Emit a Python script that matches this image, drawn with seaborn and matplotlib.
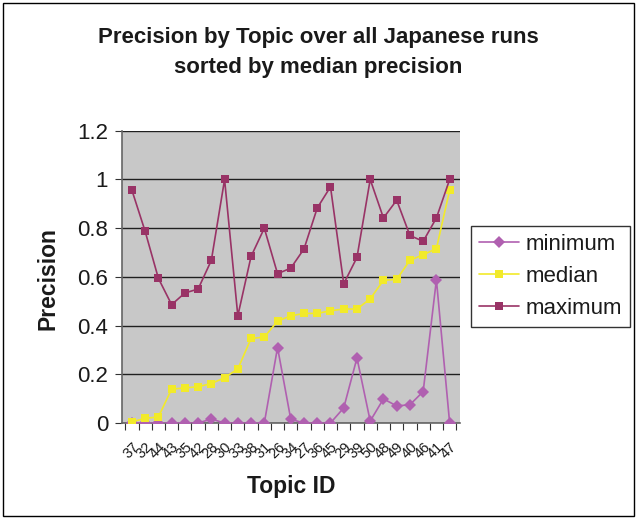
import matplotlib
matplotlib.use("Agg")
import matplotlib.pyplot as plt
import seaborn as sns
import pandas as pd
from matplotlib.patches import Rectangle
from matplotlib.ticker import FixedLocator, NullFormatter

topics = ["37", "32", "44", "43", "35", "42", "28", "30", "33", "38", "31", "26", "34",
          "27", "36", "45", "29", "39", "50", "48", "49", "40", "46", "41", "47"]
minimum = [0.0, 0.0, 0.0, 0.0, 0.0, 0.0, 0.016, 0.0, 0.0, 0.0, 0.0, 0.31, 0.015,
           0.0, 0.0, 0.0, 0.062, 0.267, 0.008, 0.099, 0.07, 0.075, 0.129, 0.588, 0.0]
median = [0.005, 0.019, 0.025, 0.139, 0.144, 0.149, 0.162, 0.186, 0.222, 0.347, 0.353, 0.418, 0.44,
          0.45, 0.45, 0.461, 0.468, 0.468, 0.51, 0.586, 0.59, 0.668, 0.691, 0.716, 0.956]
maximum = [0.956, 0.787, 0.594, 0.486, 0.534, 0.55, 0.668, 1.0, 0.44, 0.684, 0.80, 0.613, 0.636,
           0.715, 0.883, 0.97, 0.572, 0.68, 1.0, 0.842, 0.915, 0.77, 0.746, 0.842, 1.0]
series_names = ["minimum", "median", "maximum"]
yticks = [0, 0.2, 0.4, 0.6, 0.8, 1.0, 1.2]
ytick_labels = ["0", "0.2", "0.4", "0.6", "0.8", "1", "1.2"]

rows = []
for name, vals in zip(series_names, [minimum, median, maximum]):
    for i, v in enumerate(vals):
        rows.append({"pos": i, "topic": topics[i], "value": v, "series": name})
df = pd.DataFrame(rows)

sns.set_theme(style="white")
plt.rcParams["font.family"] = ["Liberation Sans", "DejaVu Sans"]
plt.rcParams["text.color"] = "#1a1a1a"
plt.rcParams["xtick.color"] = "#1a1a1a"
plt.rcParams["ytick.color"] = "#1a1a1a"

fig = plt.figure(figsize=(6.37, 5.19), dpi=100)
ax = fig.add_axes([0.1915, 0.185, 0.531, 0.563])
ax.set_facecolor("#C8C8C8")

palette = {"minimum": "#B060B0", "median": "#F2EA2A", "maximum": "#993366"}
markers = {"minimum": "D", "median": "s", "maximum": "s"}
sns.lineplot(data=df, x="pos", y="value", hue="series", style="series",
             hue_order=series_names, style_order=series_names,
             palette=palette, markers=markers, dashes=False, ax=ax,
             linewidth=1.2, markersize=6, markeredgewidth=0, legend=True, zorder=3)

ax.set_xlim(-0.75, 24.8)
ax.set_ylim(0, 1.2)
ax.set_yticks(yticks)
ax.set_yticklabels(ytick_labels, fontsize=16)
ax.yaxis.grid(True, color="#202020", linewidth=1.0)
ax.set_axisbelow(True)

ax.set_xticks(range(len(topics)))
ax.set_xticklabels(topics, rotation=45, fontsize=10.5, ha="right", rotation_mode="anchor")
ax.tick_params(axis="x", which="major", length=0, pad=12)
ax.xaxis.set_minor_locator(FixedLocator([i - 0.5 for i in range(len(topics) + 1)]))
ax.xaxis.set_minor_formatter(NullFormatter())
ax.tick_params(axis="x", which="minor", length=5, width=0.8, color="#333333", direction="out", bottom=True)
ax.tick_params(axis="y", length=5, width=0.8, color="#333333", direction="out", left=True, pad=5)

for side in ["top", "right"]:
    ax.spines[side].set_visible(False)
ax.spines["left"].set_color("#666666")
ax.spines["bottom"].set_color("#666666")
ax.spines["left"].set_linewidth(1.2)
ax.spines["bottom"].set_linewidth(1.2)

ax.set_xlabel("")
ax.set_ylabel("")
fig.text(291 / 637, 1 - 487 / 519, "Topic ID", ha="center", va="center",
         fontsize=16.5, fontweight="bold")
fig.text(48 / 637, 1 - 279 / 519, "Precision", ha="center", va="center", rotation=90,
         fontsize=16.5, fontweight="bold")

leg = ax.legend(loc="upper left", bbox_to_anchor=(471 / 637, 1 - 226 / 519), bbox_transform=fig.transFigure,
                fontsize=16, frameon=True, fancybox=False, edgecolor="black", borderaxespad=0,
                handlelength=1.8, labelspacing=0.5, borderpad=0.35, handletextpad=0.3)
leg.get_frame().set_linewidth(1.0)

fig.text(0.5, 1 - 38 / 519, "Precision by Topic over all Japanese runs", ha="center", va="center",
         fontsize=16, fontweight="bold")
fig.text(0.5, 1 - 68 / 519, "sorted by median precision", ha="center", va="center",
         fontsize=16, fontweight="bold")

fig.patches.append(Rectangle((0.005, 0.005), 0.99, 0.99, transform=fig.transFigure,
                             fill=False, edgecolor="black", linewidth=1.0))

fig.savefig("out.png", dpi=100, facecolor="white")
